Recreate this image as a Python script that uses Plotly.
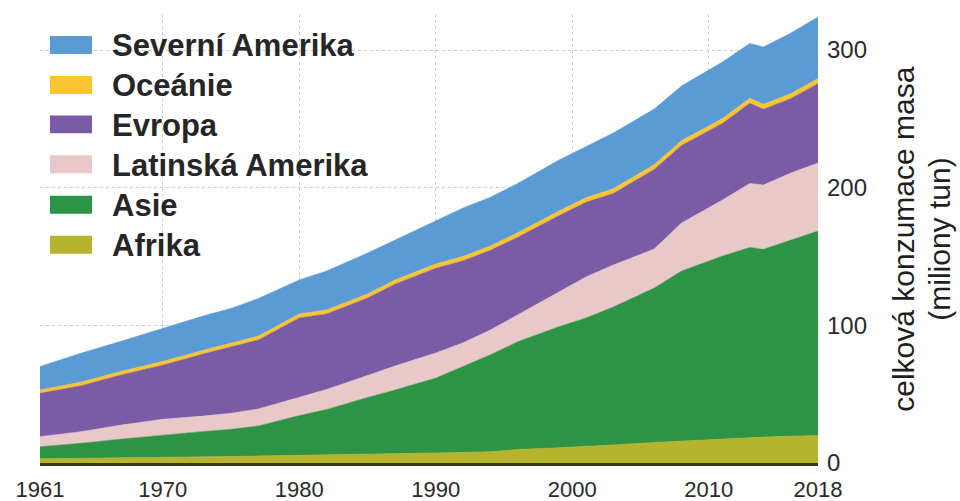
import plotly.graph_objects as go

# ---- data (millions of tonnes) ----
years = [1961, 1964, 1967, 1970, 1973, 1975, 1977, 1980, 1982, 1985, 1987, 1990, 1992,
         1994, 1996, 1999, 2001, 2003, 2006, 2008, 2011, 2013, 2014, 2016, 2018]
afrika = [3.0, 3.5, 3.8, 4.0, 4.5, 4.7, 5.0, 5.5, 5.9, 6.2, 6.6, 7.2, 7.7,
          8.2, 9.8, 11.1, 12.0, 13.1, 14.9, 16.0, 17.2, 18.3, 18.8, 19.5, 20.0]
asie = [8.8, 10.8, 13.6, 16.3, 18.4, 19.8, 21.9, 29.0, 33.0, 41.4, 46.4, 54.5, 62.3,
        70.4, 78.3, 87.9, 93.3, 100.2, 112.2, 123.5, 133.1, 138.3, 136.4, 142.4, 148.5]
latinska_amerika = [7.3, 8.4, 10.2, 11.4, 11.2, 11.6, 12.3, 13.1, 14.5, 15.9, 17.4, 18.2, 17.3,
                    18.0, 19.4, 25.0, 29.8, 30.5, 28.3, 34.8, 40.7, 46.5, 46.7, 48.7, 49.4]
evropa = [31.5, 33.4, 36.5, 39.4, 45.2, 48.2, 50.2, 57.8, 54.9, 56.3, 59.5, 61.6, 59.7,
          57.9, 56.5, 55.6, 54.3, 52.0, 57.9, 56.4, 55.7, 58.2, 55.1, 54.1, 57.7]
oceanie = [2.5, 2.6, 2.6, 2.7, 2.7, 2.8, 2.8, 2.9, 2.9, 3.0, 3.0, 3.1, 3.1,
           3.2, 3.2, 3.3, 3.3, 3.4, 3.4, 3.5, 3.5, 3.6, 3.6, 3.6, 3.7]
severni_amerika = [17.0, 21.0, 21.9, 24.0, 24.9, 25.2, 27.3, 24.7, 28.3, 29.7, 29.0, 31.1, 35.2,
                   35.3, 35.9, 37.1, 36.9, 40.5, 40.4, 39.7, 41.1, 39.9, 41.7, 44.0, 44.7]

x_tick_vals = [1961, 1970, 1980, 1990, 2000, 2010, 2018]
x_grid_vals = [1970, 1980, 1990, 2000, 2010]
y_tick_vals = [0, 100, 200, 300]

series_names = ["Afrika", "Asie", "Latinská Amerika", "Evropa", "Oceánie", "Severní Amerika"]
series_values = [afrika, asie, latinska_amerika, evropa, oceanie, severni_amerika]
series_colors = ["#b5b42c", "#2e9445", "#e8c8c9", "#7b5ba6", "#fbc531", "#5b9bd5"]

axis_title_lines = ["celková konzumace masa", "(miliony tun)"]

# ---- geometry helpers (pixel -> paper) ----
W, H = 960, 501
ML, MR, MT, MB = 40, 142, 14, 37.5
PW = W - ML - MR
PH = H - MT - MB

FONT = "Liberation Sans, Arial, sans-serif"


def px_x(px):
    return (px - ML) / PW


def px_y(py):
    return (H - MB - py) / PH


fig = go.Figure()
for name, vals, col in zip(series_names, series_values, series_colors):
    fig.add_trace(go.Scatter(
        x=years, y=vals, name=name, mode="lines", stackgroup="one",
        line=dict(width=0.6, color=col), fillcolor=col, showlegend=False,
        hoverinfo="x+y+name"))

shapes = []
# white area behind the legend (hides gridlines there)
for (x0, x1, y0, y1) in [(0, 400, 0, 150), (0, 347, 150, 222), (0, 250, 222, 270)]:
    shapes.append(dict(type="rect", xref="paper", yref="paper",
                       x0=px_x(x0), x1=px_x(x1), y0=px_y(y1), y1=px_y(y0),
                       fillcolor="white", line=dict(width=0), layer="between"))

annotations = []
legend_rows = [45, 85, 124.5, 164.5, 205, 245]
for i, (name, col) in enumerate(zip(series_names[::-1], series_colors[::-1])):
    yc = legend_rows[i]
    shapes.append(dict(type="rect", xref="paper", yref="paper",
                       x0=px_x(50), x1=px_x(92), y0=px_y(yc + 9), y1=px_y(yc - 9),
                       fillcolor=col, line=dict(width=0), layer="above"))
    annotations.append(dict(xref="paper", yref="paper", x=px_x(110), y=px_y(yc + 1),
                            xanchor="left", yanchor="middle", showarrow=False, text=name,
                            font=dict(family=FONT, size=31, color="#262626", weight="bold")))

for txt, xc in zip(axis_title_lines, [904, 940]):
    annotations.append(dict(xref="paper", yref="paper", x=px_x(xc), y=px_y(240),
                            xanchor="center", yanchor="middle", showarrow=False,
                            text=txt, textangle=-90,
                            font=dict(family=FONT, size=30, color="#1f1f1f")))

fig.update_layout(
    width=W, height=H,
    margin=dict(l=ML, r=MR, t=MT, b=MB, pad=0, autoexpand=False),
    paper_bgcolor="white", plot_bgcolor="white",
    font=dict(family=FONT, color="#2a2a2a"),
    showlegend=False,
    shapes=shapes, annotations=annotations,
    xaxis=dict(range=[1961, 2018], tickmode="array", tickvals=x_tick_vals,
               ticktext=[str(v) for v in x_tick_vals], automargin=False,
               showgrid=False, zeroline=False, ticks="", ticklabelstandoff=5,
               tickfont=dict(size=22, color="#2a2a2a"),
               showline=True, linecolor="#3a3420", linewidth=3,
               minor=dict(tickmode="array", tickvals=x_grid_vals, showgrid=True,
                          gridcolor="#cdcdcd", griddash="dot", gridwidth=1, ticks="")),
    yaxis=dict(range=[0, PH / 1.378], side="right", tickmode="array", automargin=False,
               tickvals=y_tick_vals, showgrid=True, gridcolor="#cdcdcd",
               griddash="dot", gridwidth=1, zeroline=False, ticks="",
               ticklabelstandoff=8, tickfont=dict(size=24, color="#2a2a2a"),
               showline=False),
)

fig.write_html("out.html", config={"displayModeBar": False},
               post_script="document.body.style.margin='0';document.body.style.overflow='hidden';")
